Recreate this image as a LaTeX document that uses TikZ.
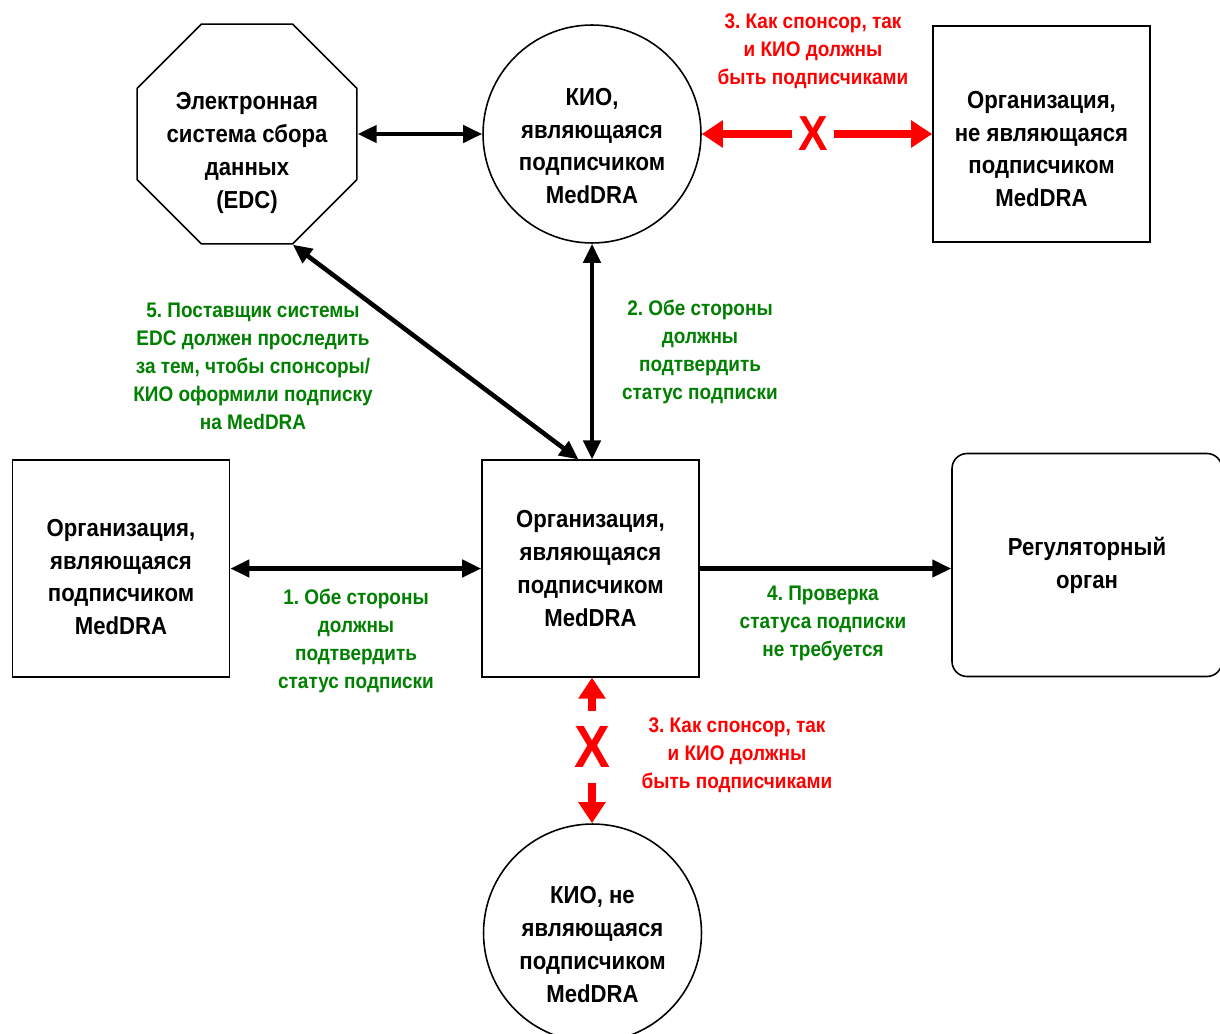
\documentclass[tikz,border=0pt]{standalone}
\usepackage{fontspec}
\setmainfont{Liberation Sans}[FakeStretch=0.9]
\usepackage{tikz}
\usetikzlibrary{shapes.geometric,arrows.meta}
\definecolor{notegreen}{RGB}{0,128,0}
\definecolor{notered}{RGB}{255,0,0}
\frenchspacing

\begin{document}
\begin{tikzpicture}[x=0.02cm, y=-0.02cm,
    >={Triangle[length=0.38cm,width=0.34cm]},
    orgbox/.style={draw, line width=0.9pt, minimum width=4.34cm, minimum height=4.33cm, inner sep=0pt},
    kiocirc/.style={circle, draw, line width=0.9pt, minimum size=4.36cm, inner sep=0pt},
    edcoct/.style={regular polygon, regular polygon sides=8, draw, line width=0.9pt, minimum size=4.76cm, inner sep=0pt},
    boxtext/.style={align=center, font=\bfseries\fontsize{14}{18.7}\selectfont},
    greennote/.style={align=center, text=notegreen, font=\bfseries\fontsize{12}{15.9}\selectfont},
    rednote/.style={greennote, text=notered},
    link/.style={line width=2.6pt},
    nolink/.style={draw=notered, line width=4.4pt, -{Triangle[length=0.42cm,width=0.52cm]}},
    xmark/.style={text=notered, font=\bfseries\fontsize{28}{28}\selectfont, inner xsep=0.12cm, inner ysep=0pt}]
  \path[use as bounding box, fill=white] (0,0) rectangle (1220,1034);

  % Nodes
  \node[edcoct] (edc) at (247,134) {};
  \node[boxtext] (edctext) at (247,153) {Электронная\\система сбора\\данных\\(EDC)};
  \node[kiocirc] (kio) at (592,134) {};
  \node[boxtext] (kiotext) at (592,146) {КИО,\\являющаяся\\подписчиком\\MedDRA};
  \node[orgbox] (nonorg) at (1041.5,134) {};
  \node[boxtext] (nonorgtext) at (1041.5,149) {Организация,\\не являющаяся\\подписчиком\\MedDRA};
  \node[orgbox] (suborg) at (121,568.5) {};
  \node[boxtext] (suborgtext) at (121,577) {Организация,\\являющаяся\\подписчиком\\MedDRA};
  \node[orgbox, boxtext] (org) at (590.5,568.5) {Организация,\\являющаяся\\подписчиком\\MedDRA};
  \node[orgbox, boxtext, rounded corners=0.3cm, minimum width=5.4cm, minimum height=4.46cm] (reg) at (1087,565) {Регуляторный\\орган};
  \node[kiocirc] (nonkio) at (592.5,933) {};
  \node[boxtext] (nonkiotext) at (592.5,944.5) {КИО, не\\являющаяся\\подписчиком\\MedDRA};

  \node[xmark] (xtop) at (813,134) {X};
  \node[xmark, font=\bfseries\fontsize{34}{34}\selectfont, inner ysep=0.3cm] (xbot) at (592,747) {X};

  \node[rednote] (note3top) at (813,51) {3. Как спонсор, так\\и КИО должны\\быть подписчиками};
  \node[greennote] (note5) at (253,366) {5. Поставщик системы\\EDC должен проследить\\за тем, чтобы спонсоры/\\КИО оформили подписку\\на MedDRA};
  \node[greennote] (note2) at (700,352) {2. Обе стороны\\должны\\подтвердить\\статус подписки};
  \node[greennote] (note1) at (356,641) {1. Обе стороны\\должны\\подтвердить\\статус подписки};
  \node[greennote] (note4) at (823,623) {4. Проверка\\статуса подписки\\не требуется};
  \node[rednote] (note3bot) at (737,755) {3. Как спонсор, так\\и КИО должны\\быть подписчиками};

  % Edges
  \draw[link, <->] (edc.east) -- (kio.west);
  \draw[link, <->] (edc.corner 6) -- ([xshift=-0.24cm]org.north);
  \draw[link, <->] (kio.south) -- (kio.south |- org.north);
  \draw[link, <->] (suborg.east) -- (org.west);
  \draw[link, ->] (org.east) -- (org.east -| reg.west);
  \draw[nolink] (xtop.west) -- (xtop.west -| kio.east);
  \draw[nolink] (xtop.east) -- (xtop.east -| nonorg.west);
  \draw[nolink] (xbot.north) -- (xbot.north |- org.south);
  \draw[nolink] (xbot.south) -- (xbot.south |- nonkio.north);
\end{tikzpicture}
\end{document}
